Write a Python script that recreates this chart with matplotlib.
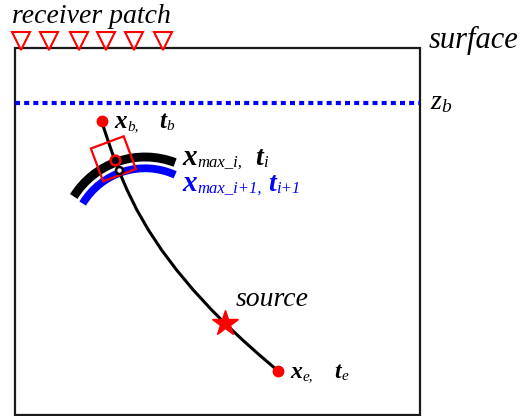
import matplotlib
matplotlib.use('Agg')
import matplotlib.pyplot as plt
from matplotlib.patches import Rectangle, Arc, Polygon
import numpy as np

plt.rcParams['mathtext.fontset'] = 'custom'
plt.rcParams['mathtext.rm'] = 'Liberation Serif'
plt.rcParams['mathtext.it'] = 'Liberation Serif:italic'

# sketch coordinates (pixel-like units, y grows downward)
receiver_x = [21.3, 49.3, 78.7, 106.0, 134.3, 162.7]
receiver_y = 40.5
model_box = (14.5, 47.5, 405.5, 367.5)   # left, top, width, height
z_b = 103.0

ray_x = [101.5, 107.8, 114.5, 118.5, 127.1, 136.9, 148.4, 161.6, 176.6,
         193.3, 211.7, 224.6, 242.6, 259.4, 277.8]
ray_y = [121.0, 140.0, 159.5, 170.0, 190.0, 210.0, 230.0, 250.0, 270.0,
         290.0, 310.0, 323.0, 340.0, 355.0, 370.7]

x_begin = (101.5, 121.0)
x_end = (277.7, 370.7)
x_max_i = (114.5, 159.5)
x_max_next = (119.0, 170.0)
source_xy = (225.0, 323.0)

front_center = (145.0, 241.0)
front_radius_i = 84.0
front_radius_next = 72.7

patch_center = (113.4, 158.8)
patch_half = 17.5
patch_angle = -20.4

fig = plt.figure(figsize=(5.23, 4.16), dpi=100)
ax = fig.add_axes([0, 0, 1, 1])
ax.set_xlim(0, 523)
ax.set_ylim(416, 0)
ax.axis('off')
renderer = fig.canvas.get_renderer()

# model domain and surface
l, t, w, h = model_box
ax.add_patch(Rectangle((l, t), w, h, fill=False, ec='#1a1a1a', lw=1.6, zorder=1))
ax.plot([l, l + w], [z_b, z_b], color='blue', lw=3.0,
        linestyle=(0, (1.2, 1.0)), dash_capstyle='butt', zorder=2)

# receivers on the surface
ax.plot(receiver_x, [receiver_y] * len(receiver_x), linestyle='none', marker='v',
        markersize=12.5, mfc='white', mec='red', mew=1.5, zorder=5)

# wavefronts at two consecutive times
ax.add_patch(Arc(front_center, 2 * front_radius_i, 2 * front_radius_i,
                 theta1=-148, theta2=-69, color='black', lw=6.4,
                 capstyle='butt', zorder=3))
ax.add_patch(Arc(front_center, 2 * front_radius_next, 2 * front_radius_next,
                 theta1=-149, theta2=-65.5, color='blue', lw=5.6,
                 capstyle='butt', zorder=3))

# ray path
ax.plot(ray_x, ray_y, color='black', lw=2.2, solid_capstyle='round',
        solid_joinstyle='round', zorder=4)

# patch around the wavefront maximum
ang = np.deg2rad(patch_angle)
corners = np.array([[-1, -1], [1, -1], [1, 1], [-1, 1]]) * patch_half
rot = np.array([[np.cos(ang), -np.sin(ang)], [np.sin(ang), np.cos(ang)]])
corners = corners @ rot.T + np.array(patch_center)
ax.add_patch(Polygon(corners, closed=True, fill=False, ec='red', lw=1.6, zorder=5))

ax.plot(*x_max_i, marker='o', markersize=7, mfc='black', mec='red', mew=1.8, zorder=6)
ax.plot(*x_max_next, marker='o', markersize=5, mfc='white', mec='black', mew=1.8, zorder=6)
ax.plot(*x_begin, marker='o', markersize=7.5, color='red', zorder=6)
ax.plot(*x_end, marker='o', markersize=7.5, color='red', zorder=6)
ax.plot(*source_xy, marker='*', markersize=19, color='red', zorder=6)

# labels
serif = dict(family='Liberation Serif', style='italic')
ax.text(12, 23, 'receiver patch', fontsize=20, va='baseline', **serif)
ax.text(429, 48, 'surface', fontsize=22, va='baseline', **serif)
ax.text(430, 109, r'$z_b$', fontsize=20, va='baseline')
ax.text(236, 306, 'source', fontsize=20, va='baseline', **serif)


def symbol(x, y, main, sub, size, sub_size, color='black'):
    # bold italic symbol followed by a small italic subscript
    txt = ax.text(x, y, main, fontsize=size, fontweight='bold', va='baseline',
                  color=color, **serif)
    width = txt.get_window_extent(renderer).width
    ax.text(x + width + 0.5, y + 2, sub, fontsize=sub_size, va='baseline',
            color=color, **serif)


symbol(114, 128, 'x', 'b,', 18, 11)
symbol(159, 128, 't', 'b', 18, 11)
symbol(182, 165, 'x', 'max_i,', 21, 12)
symbol(255, 165, 't', 'i', 20, 12)
symbol(182, 191, 'x', 'max_i+1,', 21, 12, color='blue')
symbol(268, 191, 't', 'i+1', 20, 12, color='blue')
symbol(290, 378, 'x', 'e,', 17, 11)
symbol(334, 378, 't', 'e', 17, 11)

fig.savefig('out.png', dpi=100)
